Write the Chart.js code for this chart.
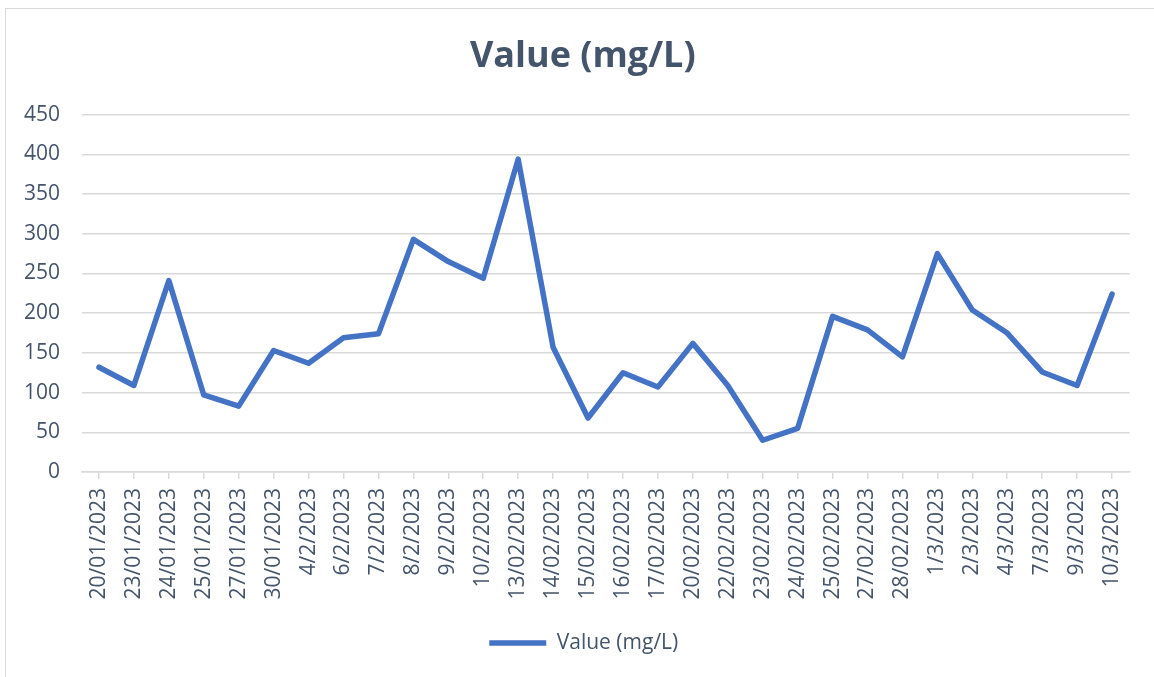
<!DOCTYPE html>
<html>
<head>
<meta charset="utf-8">
<title>Value (mg/L)</title>
<script src="https://cdn.jsdelivr.net/npm/chart.js@4/dist/chart.umd.min.js"></script>
<style>
    html, body { margin: 0; padding: 0; background: #fff; overflow: hidden; }
    #wrap { position: relative; width: 1154px; height: 677px; }
    /* the light frame around the chart, like the Excel chart area */
    #frame {
        position: absolute; left: 5px; top: 8px; width: 1170px; height: 700px;
        border: 1.5px solid #d9d9d9; pointer-events: none;
    }
    canvas { position: absolute; left: 0; top: 0; }
</style>
</head>
<body>
<div id="wrap">
    <canvas id="valueChart" width="1154" height="677"></canvas>
    <div id="frame"></div>
</div>

<script>
// ================= data =================
const dates = [
    '20/01/2023', '23/01/2023', '24/01/2023', '25/01/2023', '27/01/2023', '30/01/2023',
    '4/2/2023', '6/2/2023', '7/2/2023', '8/2/2023', '9/2/2023', '10/2/2023',
    '13/02/2023', '14/02/2023', '15/02/2023', '16/02/2023', '17/02/2023', '20/02/2023',
    '22/02/2023', '23/02/2023', '24/02/2023', '25/02/2023', '27/02/2023', '28/02/2023',
    '1/3/2023', '2/3/2023', '4/3/2023', '7/3/2023', '9/3/2023', '10/3/2023'
];

const values = [
    132, 109, 241, 97, 83, 153,
    137, 169, 174, 293, 265, 244,
    394, 157, 68, 125, 107, 162,
    109, 40, 55, 196, 179, 145,
    275, 204, 175, 126, 109, 224
];

const seriesName = 'Value (mg/L)';
const yMin = 0;
const yMax = 450;
const yStep = 50;

// ================= style =================
const textColor = '#44546A';
const gridColor = '#d9d9d9';
const lineColor = '#4472C4';

Chart.defaults.font.family = '"Open Sans", "Noto Sans", sans-serif';
Chart.defaults.color = textColor;

// title and legend sit a bit right of the plot centre in the original, nudge them over
const boxNudge = {
    id: 'boxNudge',
    afterLayout(chart) {
        const moves = [[chart.titleBlock, 7], [chart.legend, 8]];
        moves.forEach(([box, dx]) => {
            if (box) {
                box.left += dx;
                box.right += dx;
            }
        });
    }
};

const ctx = document.getElementById('valueChart').getContext('2d');

const valueChart = new Chart(ctx, {
    type: 'line',
    data: {
        labels: dates,
        datasets: [{
            label: seriesName,
            data: values,
            borderColor: lineColor,
            backgroundColor: lineColor,
            borderWidth: 5.5,
            borderCapStyle: 'round',
            borderJoinStyle: 'round',
            tension: 0,
            fill: false,
            pointRadius: 0,
            pointHoverRadius: 0
        }]
    },
    options: {
        responsive: false,
        animation: false,
        layout: {
            padding: { left: 22, right: 24.5, top: 0, bottom: 13.5 }
        },
        scales: {
            x: {
                offset: true,
                grid: {
                    display: true,
                    drawOnChartArea: false,
                    drawTicks: true,
                    tickLength: 7,
                    color: gridColor,
                    lineWidth: 1.5
                },
                border: { display: true, color: gridColor, width: 1.5 },
                ticks: {
                    autoSkip: false,
                    maxRotation: 90,
                    minRotation: 90,
                    padding: 9,
                    color: textColor,
                    font: { size: 21 }
                },
                afterFit: (scale) => { scale.height = 150.5; }
            },
            y: {
                min: yMin,
                max: yMax,
                grid: {
                    color: gridColor,
                    lineWidth: 1.5,
                    drawTicks: false
                },
                border: { display: false },
                ticks: {
                    stepSize: yStep,
                    padding: 21.5,
                    color: textColor,
                    font: { size: 21 }
                },
                afterFit: (scale) => { scale.width = 59.5; }
            }
        },
        plugins: {
            title: {
                display: true,
                text: seriesName,
                color: textColor,
                font: { size: 36, weight: 'bold' },
                padding: { top: 35.4, bottom: 36.1 }
            },
            legend: {
                display: true,
                position: 'bottom',
                labels: {
                    usePointStyle: true,
                    pointStyle: 'line',
                    pointStyleWidth: 57,
                    color: textColor,
                    font: { size: 21 },
                    padding: 10
                }
            },
            tooltip: { enabled: false }
        }
    },
    plugins: [boxNudge]
});
</script>
</body>
</html>
